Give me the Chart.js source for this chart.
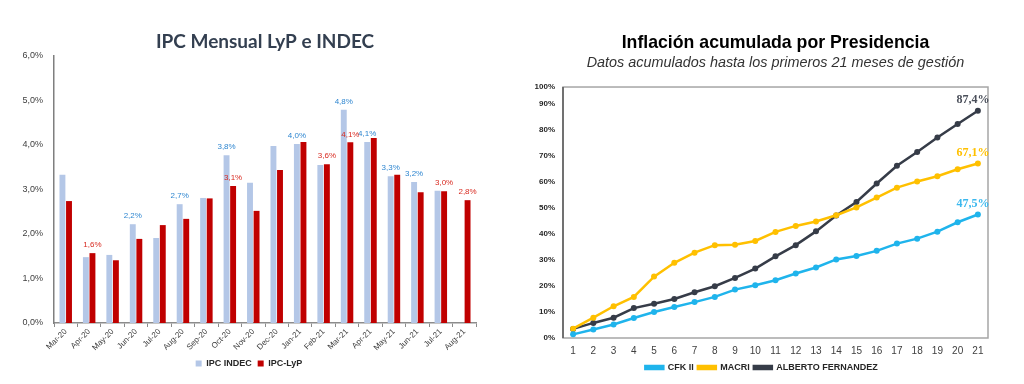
<!DOCTYPE html>
<html>
<head>
<meta charset="utf-8">
<script src="https://cdn.jsdelivr.net/npm/chart.js@4.4.0/dist/chart.umd.min.js"></script>
<style>
  html, body { margin: 0; padding: 0; background: #fff; }
  body { width: 1024px; height: 384px; position: relative; overflow: hidden; }
  #ipcChart { position: absolute; left: 0; top: 0; }
  #acumChart { position: absolute; left: 510px; top: 0; }
</style>
</head>
<body>
<canvas id="ipcChart" width="510" height="384"></canvas>
<canvas id="acumChart" width="514" height="384"></canvas>
<script>
// --- IPC mensual (left) ---
const months = ['Mar-20', 'Apr-20', 'May-20', 'Jun-20', 'Jul-20', 'Aug-20', 'Sep-20', 'Oct-20', 'Nov-20',
  'Dec-20', 'Jan-21', 'Feb-21', 'Mar-21', 'Apr-21', 'May-21', 'Jun-21', 'Jul-21', 'Aug-21'];
const ipcIndec = [3.33, 1.48, 1.53, 2.22, 1.91, 2.67, 2.81, 3.77, 3.15, 3.98, 4.02, 3.55, 4.79, 4.07, 3.30, 3.17, 2.97, null];
const ipcLyp = [2.74, 1.57, 1.41, 1.89, 2.20, 2.34, 2.80, 3.08, 2.52, 3.44, 4.07, 3.57, 4.06, 4.16, 3.33, 2.94, 2.96, 2.76];
// which bars carry a value label
const indecLabelIdx = [3, 5, 7, 10, 12, 13, 14, 15];
const lypLabelIdx = [1, 7, 11, 12, 16, 17];

// --- Inflacion acumulada (right) ---
const mesesGestion = ['1', '2', '3', '4', '5', '6', '7', '8', '9', '10', '11', '12', '13', '14', '15', '16', '17', '18', '19', '20', '21'];
const cfk = [1.4, 3.3, 5.2, 7.7, 10.0, 11.9, 13.8, 15.8, 18.6, 20.3, 22.2, 24.8, 27.1, 30.2, 31.5, 33.5, 36.3, 38.2, 40.9, 44.5, 47.5];
const macri = [3.6, 7.8, 12.2, 15.8, 23.6, 28.9, 32.8, 35.7, 35.9, 37.3, 40.8, 43.1, 44.8, 47.2, 50.2, 54.0, 57.8, 60.2, 62.2, 64.9, 67.1];
const alberto = [3.5, 5.8, 7.8, 11.5, 13.2, 15.0, 17.6, 19.9, 23.1, 26.7, 31.4, 35.7, 41.0, 47.1, 52.3, 59.4, 66.2, 71.5, 77.1, 82.3, 87.4];

Chart.defaults.font.family = '"Liberation Sans", Arial, sans-serif';

const fmt = v => v.toFixed(1).replace('.', ',') + '%';

const barLabels = {
  id: 'barLabels',
  afterDatasetsDraw(chart) {
    const ctx = chart.ctx;
    ctx.save();
    ctx.font = '8px "Liberation Sans", Arial';
    ctx.textAlign = 'center';
    ctx.textBaseline = 'middle';
    [[0, indecLabelIdx, '#2e86d0'], [1, lypLabelIdx, '#d82a20']].forEach(([ds, idxs, color]) => {
      const meta = chart.getDatasetMeta(ds);
      ctx.fillStyle = color;
      idxs.forEach(i => {
        const bar = meta.data[i];
        ctx.fillText(fmt(chart.data.datasets[ds].data[i]), bar.x, bar.y - 8);
      });
    });
    ctx.restore();
  }
};

new Chart(document.getElementById('ipcChart'), {
  type: 'bar',
  data: {
    labels: months,
    datasets: [
      { label: 'IPC INDEC', data: ipcIndec, backgroundColor: '#b4c7e7', categoryPercentage: 0.56, barPercentage: 0.9 },
      { label: 'IPC-LyP', data: ipcLyp, backgroundColor: '#c00000', categoryPercentage: 0.56, barPercentage: 0.9 }
    ]
  },
  options: {
    responsive: false,
    animation: false,
    layout: { padding: { left: 22, right: 34, top: 30.6, bottom: 6 } },
    plugins: {
      title: {
        display: true,
        text: 'IPC Mensual LyP e INDEC',
        fullSize: false,
        color: '#333f50',
        font: { family: 'Lato', size: 19, weight: 'bold' },
        padding: { top: 0, bottom: 2.6 }
      },
      legend: {
        position: 'bottom',
        labels: {
          boxWidth: 6, boxHeight: 6, padding: 6, color: '#262626',
          font: { size: 9, weight: 'bold' }
        }
      },
      tooltip: { enabled: false }
    },
    scales: {
      x: {
        grid: { offset: true, drawOnChartArea: false, tickLength: 4, color: '#8c8c8c' },
        border: { color: '#8c8c8c', width: 1.5 },
        ticks: { minRotation: 45, maxRotation: 45, color: '#404040', font: { size: 8 }, padding: 0 },
        afterFit(scale) { scale.height = 30; }
      },
      y: {
        min: 0, max: 6,
        grid: { display: false },
        border: { color: '#7f7f7f', width: 1.5 },
        ticks: { stepSize: 1, color: '#404040', font: { size: 9 }, callback: v => fmt(v) },
        afterFit(scale) { scale.width = 32; }
      }
    }
  },
  plugins: [barLabels]
});

const areaBorder = {
  id: 'areaBorder',
  beforeDatasetsDraw(chart) {
    const { ctx, chartArea: { left, top, width, height } } = chart;
    ctx.save();
    ctx.strokeStyle = '#a6a6a6';
    ctx.lineWidth = 1.5;
    ctx.strokeRect(left, top, width, height);
    ctx.strokeStyle = '#595959';
    ctx.beginPath();
    ctx.moveTo(left, top);
    ctx.lineTo(left, top + height);
    ctx.stroke();
    ctx.restore();
  }
};

const endLabels = {
  id: 'endLabels',
  afterDatasetsDraw(chart) {
    const ctx = chart.ctx;
    ctx.save();
    ctx.font = 'bold 12px "Liberation Serif", "Times New Roman", serif';
    ctx.textAlign = 'center';
    ctx.textBaseline = 'middle';
    chart.data.datasets.forEach((ds, i) => {
      const pts = chart.getDatasetMeta(i).data;
      const last = pts[pts.length - 1];
      ctx.fillStyle = ds.labelColor;
      ctx.fillText(fmt(ds.data[ds.data.length - 1]), last.x - 5, last.y - 11);
    });
    ctx.restore();
  }
};

new Chart(document.getElementById('acumChart'), {
  type: 'line',
  data: {
    labels: mesesGestion,
    datasets: [
      { label: 'CFK II', data: cfk, borderColor: '#1fb4ec', backgroundColor: '#1fb4ec', labelColor: '#3bb8ee' },
      { label: 'MACRI', data: macri, borderColor: '#ffc000', backgroundColor: '#ffc000', labelColor: '#ffc000' },
      { label: 'ALBERTO FERNANDEZ', data: alberto, borderColor: '#363c48', backgroundColor: '#363c48', labelColor: '#4a4f5a' }
    ]
  },
  options: {
    responsive: false,
    animation: false,
    elements: {
      line: { borderWidth: 2.5, tension: 0 },
      point: { radius: 3, borderWidth: 0 }
    },
    layout: { padding: { left: 25, right: 36, top: 32.6, bottom: 2 } },
    plugins: {
      title: {
        display: true,
        text: 'Inflación acumulada por Presidencia',
        fullSize: false,
        color: '#000',
        font: { size: 17.7, weight: 'bold' },
        padding: { top: 0, bottom: 0.5 }
      },
      subtitle: {
        display: true,
        text: 'Datos acumulados hasta los primeros 21 meses de gestión',
        fullSize: false,
        color: '#333',
        font: { size: 14.4, style: 'italic' },
        padding: { top: 0, bottom: 15.4 }
      },
      legend: {
        position: 'bottom',
        labels: {
          boxWidth: 18, boxHeight: 3, padding: 4, color: '#262626',
          font: { size: 9, weight: 'bold' }
        }
      },
      tooltip: { enabled: false }
    },
    scales: {
      x: {
        offset: true,
        grid: { display: false, drawTicks: false },
        border: { display: false },
        ticks: { color: '#404040', font: { size: 10 }, padding: 7 },
        afterFit(scale) { scale.height = 21; }
      },
      y: {
        min: 0, max: 96.5,
        grid: { display: false, drawTicks: false },
        border: { display: false },
        afterBuildTicks(axis) {
          axis.ticks = [0, 10, 20, 30, 40, 50, 60, 70, 80, 90, axis.max].map(v => ({ value: v }));
        },
        ticks: {
          color: '#262626', font: { size: 8, weight: 'bold' }, padding: 8,
          callback: v => (v > 95 ? 100 : v) + '%'
        },
        afterFit(scale) { scale.width = 28; }
      }
    }
  },
  plugins: [areaBorder, endLabels]
});
</script>
</body>
</html>
